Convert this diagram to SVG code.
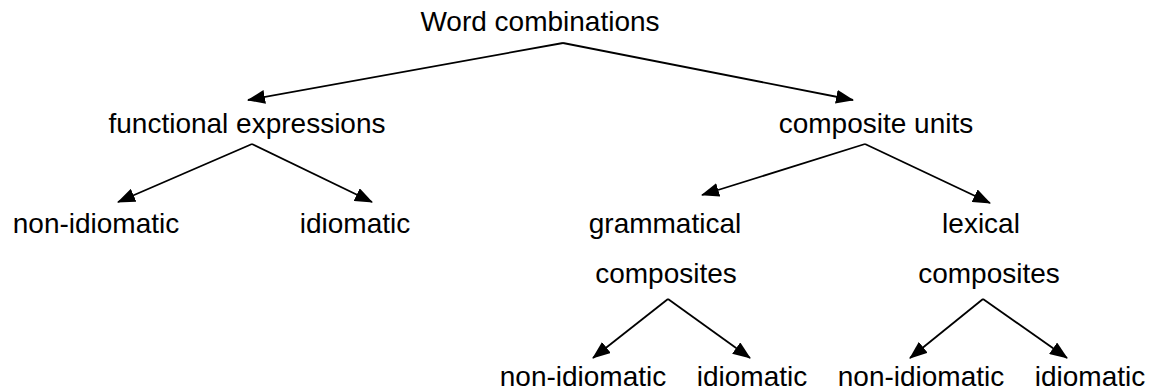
<svg xmlns="http://www.w3.org/2000/svg" width="1156" height="390" viewBox="0 0 1156 390">
<style>
text{font-family:"Liberation Sans",Arial,sans-serif;font-size:28px;fill:#000;text-anchor:middle}
.c line{stroke:#000;stroke-width:1.8;marker-end:url(#ah)}
</style>
<defs>
<marker id="ah" viewBox="0 0 18 14" refX="17" refY="7" markerWidth="18" markerHeight="14" markerUnits="userSpaceOnUse" orient="auto">
<path d="M0,0 L18,7 L0,14 z" fill="#000"/>
</marker>
</defs>
<rect width="1156" height="390" fill="#fff"/>
<g id="n-root"><text x="540" y="31">Word combinations</text></g>
<g id="n-func"><text x="247" y="133">functional expressions</text></g>
<g id="n-comp"><text x="876" y="133">composite units</text></g>
<g id="n-f-non"><text x="96" y="233">non-idiomatic</text></g>
<g id="n-f-id"><text x="355" y="233">idiomatic</text></g>
<g id="n-gram"><text x="665" y="233">grammatical</text><text x="666" y="283">composites</text></g>
<g id="n-lex"><text x="981" y="233">lexical</text><text x="989" y="283">composites</text></g>
<g id="n-g-non"><text x="583" y="386">non-idiomatic</text></g>
<g id="n-g-id"><text x="752" y="386">idiomatic</text></g>
<g id="n-l-non"><text x="921" y="386">non-idiomatic</text></g>
<g id="n-l-id"><text x="1090" y="386">idiomatic</text></g>
<g id="connectors" class="c">
<line x1="563" y1="43" x2="248" y2="100"/>
<line x1="563" y1="43" x2="853" y2="100"/>
<line x1="252" y1="144" x2="118" y2="202"/>
<line x1="252" y1="144" x2="372" y2="202"/>
<line x1="865" y1="144" x2="702" y2="195"/>
<line x1="865" y1="144" x2="990" y2="203"/>
<line x1="668" y1="299" x2="593" y2="358"/>
<line x1="668" y1="299" x2="750" y2="358"/>
<line x1="983" y1="299" x2="910" y2="358"/>
<line x1="983" y1="299" x2="1067" y2="358"/>
</g>
</svg>
